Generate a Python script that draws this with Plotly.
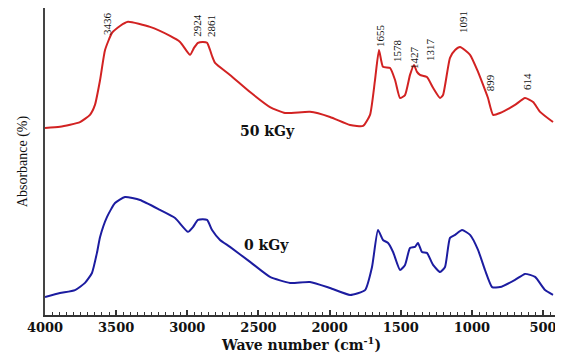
import plotly.graph_objects as go

# Wavenumber (cm^-1) and absorbance (a.u.)
wn_50 = [4000, 3895, 3754, 3684, 3649, 3613, 3578, 3529, 3473, 3417, 3262, 3121, 3051, 2981,
         2953, 2925, 2890, 2861, 2840, 2826, 2805, 2700, 2559, 2419, 2313, 2138, 1997, 1856,
         1765, 1716, 1681, 1653, 1625, 1575, 1540, 1505, 1470, 1435, 1407, 1386, 1365, 1316,
         1273, 1224, 1203, 1154, 1118, 1083, 1013, 957, 908, 887, 851, 802, 697, 627, 570, 521, 430]
abs_50 = [62.3, 62.7, 64.3, 66.7, 70.0, 78.3, 88.3, 94.0, 96.3, 97.7, 96.0, 93.0, 91.0, 86.7,
          89.0, 90.7, 91.0, 90.7, 88.3, 86.3, 84.0, 80.0, 74.3, 69.3, 67.3, 67.7, 66.0, 63.3,
          63.0, 66.7, 78.3, 88.3, 82.7, 82.3, 78.3, 72.3, 73.3, 80.0, 83.3, 81.0, 80.0, 79.3,
          75.7, 72.3, 73.3, 85.7, 88.3, 89.3, 86.7, 81.0, 75.0, 72.3, 66.7, 67.3, 70.0, 72.3, 71.0, 67.7, 64.3]

wn_0 = [4000, 3895, 3789, 3719, 3670, 3635, 3613, 3564, 3508, 3438, 3332, 3192, 3086, 2995,
        2960, 2925, 2861, 2826, 2770, 2700, 2559, 2419, 2278, 2138, 1997, 1856, 1751, 1702,
        1660, 1625, 1589, 1554, 1505, 1470, 1435, 1400, 1379, 1351, 1316, 1273, 1224, 1189,
        1154, 1118, 1069, 1013, 957, 908, 858, 802, 697, 627, 556, 486, 430]
abs_0 = [6.0, 7.3, 8.3, 10.7, 14.0, 20.7, 26.0, 32.7, 37.3, 39.3, 38.3, 35.0, 32.3, 27.7,
         29.3, 31.7, 31.7, 28.3, 25.0, 22.7, 17.7, 12.7, 10.7, 11.0, 9.0, 6.7, 8.3, 16.0,
         28.3, 25.0, 24.0, 21.0, 15.0, 16.7, 22.3, 22.7, 24.0, 21.0, 20.7, 16.7, 14.3, 16.0,
         25.7, 26.7, 28.3, 26.7, 21.7, 15.0, 9.3, 9.3, 11.7, 13.7, 12.7, 8.3, 6.7]

peak_labels = ["3436", "2924", "2861", "1655", "1578", "1427", "1317", "1091", "899", "614"]
peak_x = [3564, 2932, 2833, 1646, 1526, 1407, 1294, 1062, 872, 612]
peak_y = [97.0, 96.7, 96.3, 93.3, 88.0, 86.0, 88.3, 97.7, 77.3, 77.7]

series_labels = ["50 kGy", "0 kGy"]
series_label_x = [2433, 2440]
series_label_y = [61.3, 23.3]

tick_vals = [4000, 3500, 3000, 2500, 2000, 1500, 1000, 500]

fig = go.Figure()
fig.add_trace(go.Scatter(x=wn_50, y=abs_50, mode="lines",
                         line=dict(color="#d22222", width=2, shape="spline", smoothing=0.5),
                         showlegend=False))
fig.add_trace(go.Scatter(x=wn_0, y=abs_0, mode="lines",
                         line=dict(color="#1c1ca0", width=2, shape="spline", smoothing=0.5),
                         showlegend=False))

for t, x, y in zip(peak_labels, peak_x, peak_y):
    fig.add_annotation(x=x, y=y, text=t, showarrow=False, textangle=-90,
                       font=dict(family="Liberation Serif", size=11, color="#111"))

for t, x, y in zip(series_labels, series_label_x, series_label_y):
    fig.add_annotation(x=x, y=y, text=t, showarrow=False,
                       font=dict(family="DejaVu Serif", size=14, color="#111", weight="bold"))

fig.update_layout(
    width=555, height=350,
    margin=dict(l=37, r=5, t=0, b=43),
    paper_bgcolor="white", plot_bgcolor="white",
    font=dict(family="Liberation Serif", color="#111"),
)
fig.update_xaxes(
    range=[4000, 395], showgrid=False, zeroline=False,
    showline=True, linecolor="#333", linewidth=1.5,
    tickvals=tick_vals, ticks="inside", ticklen=5, tickcolor="#333", tickwidth=1.5,
    minor=dict(dtick=50, ticks="inside", ticklen=3, tickcolor="#333", tickwidth=1),
    tickfont=dict(family="DejaVu Serif", size=13, weight="bold", color="#111"),
    title=dict(text="Wave number (cm<sup>-1</sup>)", standoff=2,
               font=dict(family="DejaVu Serif", size=14, weight="bold", color="#111")),
)
fig.update_yaxes(
    range=[0, 102.3], showgrid=False, zeroline=False,
    showline=True, linecolor="#444", linewidth=1.5,
    showticklabels=False, ticks="",
    title=dict(text="Absorbance (%)", standoff=12,
               font=dict(family="Liberation Serif", size=14, color="#111")),
)

fig.write_html("out.html")
